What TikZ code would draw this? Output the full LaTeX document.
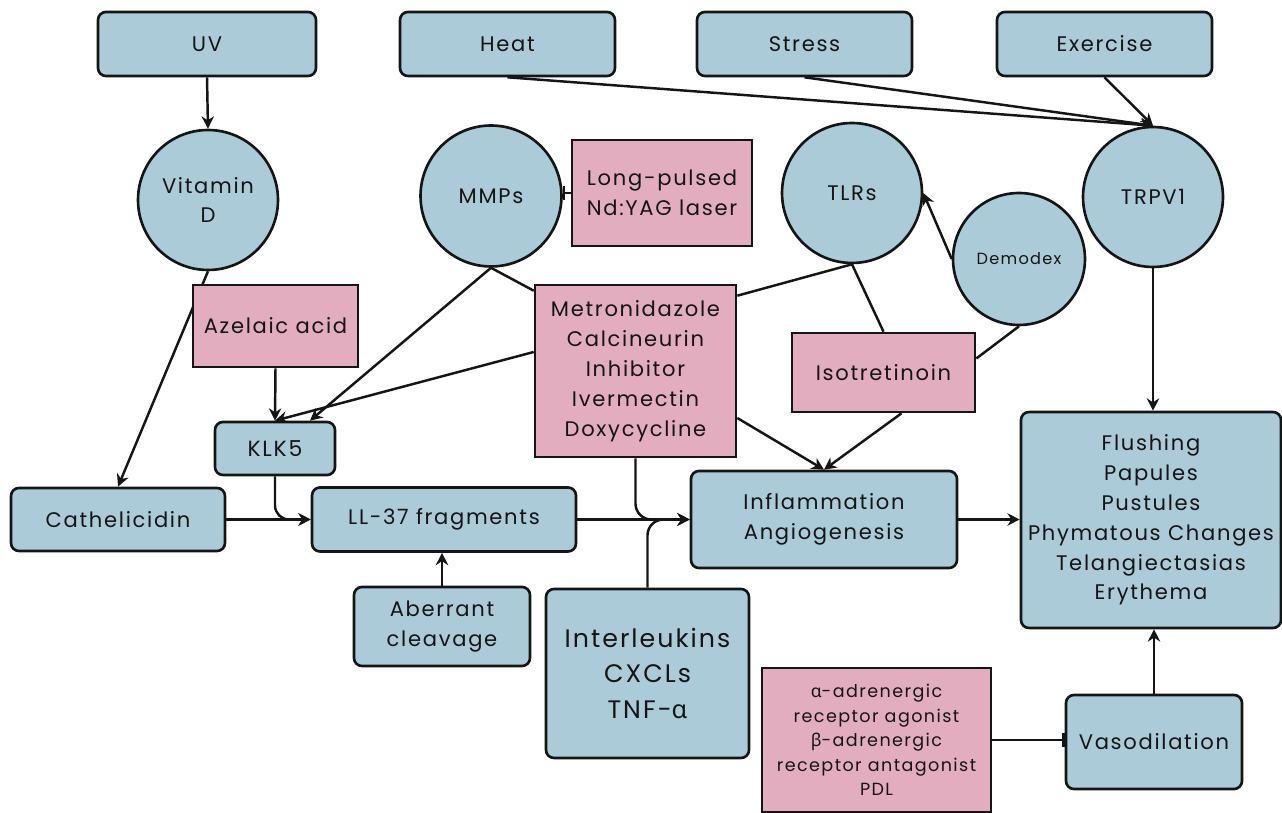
\documentclass[tikz,border=0pt]{standalone}
\usepackage{fontspec}
\setmainfont{Poppins}[LetterSpace=8]
\newfontfamily\grk{Noto Sans}[LetterSpace=8]
\usetikzlibrary{arrows.meta,calc,backgrounds}
\definecolor{bluebox}{HTML}{AACBD7}
\definecolor{pinkbox}{HTML}{E2ADBF}
\definecolor{ink}{HTML}{151515}
\newcommand\fsz[2]{\fontsize{#1}{#2}\selectfont}
\tikzset{
  bbox/.style={draw=ink, line width=1.5pt, fill=bluebox, rounded corners=4.5pt, align=center, text=ink, inner sep=0pt},
  pbox/.style={draw=ink, line width=1.5pt, fill=pinkbox, align=center, text=ink, inner sep=0pt},
  bcirc/.style={draw=ink, line width=1.5pt, fill=bluebox, circle, align=center, text=ink, inner sep=0pt},
  conn/.style={draw=ink, line width=1.4pt},
  arr/.style={conn, -{Stealth[length=7pt,width=7pt]}},
  inh/.style={conn, -{Bar[width=8pt]}},
  txt/.style={font=\fsz{12}{17}},
  toptxt/.style={font=\fsz{12}{17}},
}
\begin{document}
\begin{tikzpicture}[x=0.02cm,y=-0.02cm]
\useasboundingbox (0,0) rectangle (1282,813);
% top row
\node[bbox, minimum width=4.36cm, minimum height=1.28cm, toptxt] (uv) at (207,44) {UV};
\node[bbox, minimum width=4.3cm, minimum height=1.28cm, toptxt] (heat) at (507.5,44) {Heat};
\node[bbox, minimum width=4.3cm, minimum height=1.28cm, toptxt] (stress) at (804.5,44) {Stress};
\node[bbox, minimum width=4.3cm, minimum height=1.28cm, toptxt] (exercise) at (1104.5,44) {Exercise};
% circles
\node[bcirc, minimum size=2.8cm, txt] (vitd) at (208,200) {Vitamin\\D};
\node[bcirc, minimum size=2.82cm, txt] (mmps) at (491,196) {MMPs};
\node[bcirc, minimum size=2.8cm, txt] (tlrs) at (852,193) {TLRs};
\node[bcirc, minimum size=2.64cm, font=\fsz{9.2}{12}] (demodex) at (1019,259) {Demodex};
\node[bcirc, minimum size=2.8cm, txt] (trpv1) at (1153,197) {TRPV1};
% pink boxes
\node[pbox, minimum width=3.6cm, minimum height=2.12cm, txt] (laser) at (662,193) {Long-pulsed\\Nd:YAG laser};
\node[pbox, minimum width=3.3cm, minimum height=1.64cm, txt] (azelaic) at (275.5,326) {Azelaic acid};
\node[pbox, minimum width=4.02cm, minimum height=3.44cm, txt] (metro) at (635.5,371) {Metronidazole\\Calcineurin\\Inhibitor\\Ivermectin\\Doxycycline};
\node[pbox, minimum width=3.66cm, minimum height=1.58cm, txt] (iso) at (883.5,372.5) {Isotretinoin};
\node[pbox, minimum width=4.58cm, minimum height=2.88cm, font=\fsz{10}{13.9}] (pdl) at (876.5,740) {{\grk α}-adrenergic\\receptor agonist\\{\grk β}-adrenergic\\receptor antagonist\\PDL};
% blue boxes
\node[bbox, minimum width=2.4cm, minimum height=1.06cm, font=\fsz{12.5}{15}] (klk5) at (275,448.5) {KLK5};
\node[bbox, minimum width=4.28cm, minimum height=1.26cm, txt] (cath) at (118,519.5) {Cathelicidin};
\node[bbox, minimum width=5.28cm, minimum height=1.28cm, txt] (ll37) at (444,519.5) {LL-37 fragments};
\node[bbox, minimum width=3.52cm, minimum height=1.58cm, txt] (aber) at (442,626.5) {Aberrant\\cleavage};
\node[bbox, minimum width=4.06cm, minimum height=3.38cm, font=\fsz{14.4}{20}] (inter) at (647.5,673.5) {Interleukins\\CXCLs\\TNF-{\grk α}};
\node[bbox, minimum width=5.32cm, minimum height=1.94cm, txt] (infl) at (824,519.5) {Inflammation\\Angiogenesis};
\node[bbox, minimum width=5.2cm, minimum height=4.32cm, txt] (symp) at (1151,520) {Flushing\\Papules\\Pustules\\Phymatous Changes\\Telangiectasias\\Erythema};
\node[bbox, minimum width=3.52cm, minimum height=1.88cm, txt] (vaso) at (1154,742) {Vasodilation};
% connectors
\begin{scope}[on background layer]
\fill[white] (0,0) rectangle (1282,813);
\draw[arr] (uv.south) -- (vitd.north);
\draw[arr] (heat.south) -- (trpv1.north);
\draw[arr] (stress.south) -- (trpv1.north);
\draw[arr] (exercise.south) -- (trpv1.north);
\draw[arr] (trpv1.south) -- (trpv1.south |- symp.north);
\draw[arr] (vitd.south) -- (cath.north);
\draw[arr] (azelaic.south) -- (klk5.north);
\draw[arr] ($(metro.west)+(0,-19)$) -- (klk5.north);
\draw[arr] (mmps.south) -- ($(klk5.north)+(35,0)$);
\draw[conn] (mmps.south) -- ($(metro.north west)+(0,7)$);
\draw[conn] ($(metro.north east)+(0,12)$) -- (tlrs.south);
\draw[conn] (tlrs.south) -- (iso.north);
\draw[arr] (demodex.west) -- (tlrs.east);
\draw[conn] (demodex.south) -- ($(iso.east)+(0,-14)$);
\draw[arr] ($(iso.south)+(18,0)$) -- (infl.north);
\draw[arr] ($(metro.east)+(0,47)$) -- (infl.north);
\draw[arr, rounded corners=9pt] (metro.south) |- (infl.west);
\draw[arr, rounded corners=9pt] (inter.north) |- (infl.west);
\draw[arr] (ll37.east) -- (infl.west);
\draw[arr, rounded corners=8pt] (klk5.south) |- (ll37.west);
\draw[arr] (cath.east) -- (ll37.west);
\draw[arr] (aber.north) -- (aber.north |- ll37.south);
\draw[arr] (infl.east) -- (infl.east -| symp.west);
\draw[inh] (laser.west) -- (laser.west -| mmps.east);
\draw[inh] (pdl.east) -- (pdl.east -| vaso.west);
\draw[arr] (vaso.north) -- (vaso.north |- symp.south);
\end{scope}
\end{tikzpicture}
\end{document}
